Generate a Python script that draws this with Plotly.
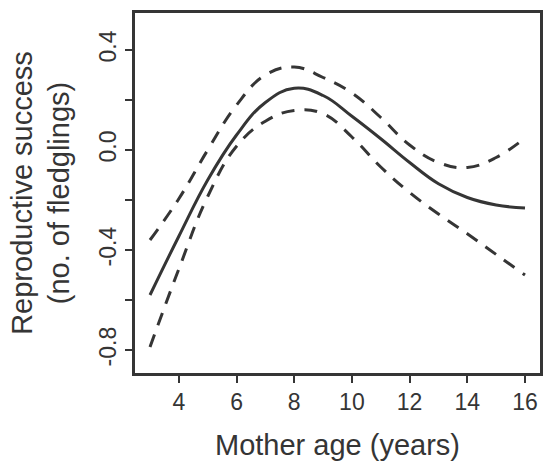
import plotly.graph_objects as go

# Fitted effect of mother age on reproductive success, with confidence bounds
ages = [3, 4, 5, 6, 7, 8, 9, 10, 11, 12, 13, 14, 15, 16]
fit = [-0.58, -0.345, -0.12, 0.06, 0.19, 0.247, 0.218, 0.135, 0.045, -0.05, -0.135, -0.19, -0.22, -0.232]
upper = [-0.36, -0.195, 0.0, 0.18, 0.30, 0.332, 0.29, 0.228, 0.13, 0.02, -0.05, -0.07, -0.03, 0.048]
lower = [-0.788, -0.476, -0.186, 0.015, 0.115, 0.158, 0.145, 0.052, -0.068, -0.17, -0.256, -0.335, -0.418, -0.50]

x_ticks = [4, 6, 8, 10, 12, 14, 16]
y_ticks = [-0.8, -0.6, -0.4, -0.2, 0.0, 0.2, 0.4]
y_ticktext = ["-0.8", "", "-0.4", "", "0.0", "", "0.4"]

ink = "#353535"
font = "Liberation Sans, Arial, sans-serif"

fig = go.Figure()
for ys, dash in [(upper, "13px,10px"), (lower, "13px,10px"), (fit, "solid")]:
    fig.add_trace(go.Scatter(
        x=ages, y=ys, mode="lines",
        line=dict(color=ink, width=3, dash=dash, shape="spline", smoothing=1.2),
        showlegend=False, hoverinfo="skip",
    ))

fig.update_layout(
    width=544, height=461,
    margin=dict(l=135, r=1, t=13, b=88),
    paper_bgcolor="white", plot_bgcolor="white",
    font=dict(family=font, color=ink),
)
fig.update_xaxes(
    range=[2.48, 16.52], tickvals=x_ticks,
    showgrid=False, zeroline=False,
    showline=True, mirror=True, linecolor=ink, linewidth=2.5,
    ticks="outside", ticklen=7, tickwidth=1.5, tickcolor=ink,
    tickfont=dict(size=23, family=font, color=ink),
    title=dict(text="Mother age (years)", font=dict(size=29, family=font, color=ink), standoff=22),
)
fig.update_yaxes(
    range=[-0.892, 0.548], tickvals=y_ticks, ticktext=y_ticktext,
    tickangle=-90,
    showgrid=False, zeroline=False,
    showline=True, mirror=True, linecolor=ink, linewidth=2.5,
    ticks="outside", ticklen=7, tickwidth=1.5, tickcolor=ink,
    tickfont=dict(size=23, family=font, color=ink),
    title=dict(text="Reproductive success<br>(no. of fledglings)",
               font=dict(size=29, family=font, color=ink), standoff=17),
)

fig.write_html("out.html")
